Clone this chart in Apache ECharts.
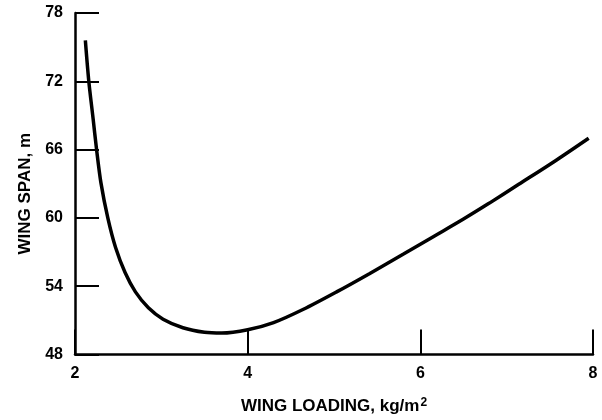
<!DOCTYPE html>
<html>
<head>
<meta charset="utf-8">
<script src="https://cdn.jsdelivr.net/npm/echarts@6/dist/echarts.min.js"></script>
<style>html,body{margin:0;padding:0;background:#fff}#c{width:602px;height:420px}</style>
</head>
<body>
<div id="c"></div>
<script>
// Wing loading (kg/m^2) vs wing span (m)
var wingLoading = [2.12, 2.16, 2.21, 2.25, 2.30, 2.38, 2.47, 2.58, 2.70, 2.85, 3.02, 3.25, 3.50, 3.70, 4.00, 4.30, 4.64, 5.03, 5.41, 5.80, 6.15, 6.50, 6.80, 7.14, 7.57, 7.95];
var wingSpan    = [75.6, 72.0, 68.7, 66.0, 63.1, 60.0, 57.4, 55.2, 53.5, 52.1, 51.1, 50.35, 49.95, 49.88, 50.17, 50.8, 51.95, 53.5, 55.1, 56.8, 58.35, 59.9, 61.3, 62.95, 65.05, 67.0];
var xTicks = [2, 4, 6, 8];
var yTicks = [48, 54, 60, 66, 72, 78];

var pts = wingLoading.map(function (x, i) { return [x, wingSpan[i]]; });
var font = 'Liberation Sans, Arial, sans-serif';
var chart = echarts.init(document.getElementById('c'));
chart.setOption({
  animation: false,
  backgroundColor: '#fff',
  grid: { left: 75, right: 9, top: 13, bottom: 58 },
  xAxis: {
    type: 'value', min: xTicks[0], max: xTicks[xTicks.length - 1], interval: 2,
    name: '{n|WING LOADING, kg/m}{s|2}', nameLocation: 'middle', nameGap: 42,
    nameTextStyle: {
      rich: {
        n: { fontFamily: font, fontSize: 17, fontWeight: 'bold', color: '#000' },
        s: { fontFamily: font, fontSize: 12, fontWeight: 'bold', color: '#000', verticalAlign: 'top', padding: [0, 0, 8, 1] }
      }
    },
    axisLine: { show: true, lineStyle: { color: '#000', width: 2.5 } },
    axisTick: { show: true, inside: true, length: 25, lineStyle: { color: '#000', width: 2 } },
    axisLabel: { color: '#000', fontFamily: font, fontSize: 16, fontWeight: 'bold', margin: 11 },
    splitLine: { show: false }
  },
  yAxis: {
    type: 'value', min: yTicks[0], max: yTicks[yTicks.length - 1], interval: 6,
    name: 'WING SPAN, m', nameLocation: 'middle', nameGap: 35,
    nameTextStyle: { color: '#000', fontFamily: font, fontSize: 17, fontWeight: 'bold', padding: [0, 20, 0, 0] },
    axisLine: { show: true, lineStyle: { color: '#000', width: 2.5 } },
    axisTick: { show: true, inside: true, length: 24, lineStyle: { color: '#000', width: 2 } },
    axisLabel: { color: '#000', fontFamily: font, fontSize: 16, fontWeight: 'bold', margin: 12 },
    splitLine: { show: false }
  },
  series: [{
    type: 'line', data: pts, smooth: 0.3, symbol: 'none',
    lineStyle: { color: '#000', width: 3.5 }
  }]
});
</script>
</body>
</html>
